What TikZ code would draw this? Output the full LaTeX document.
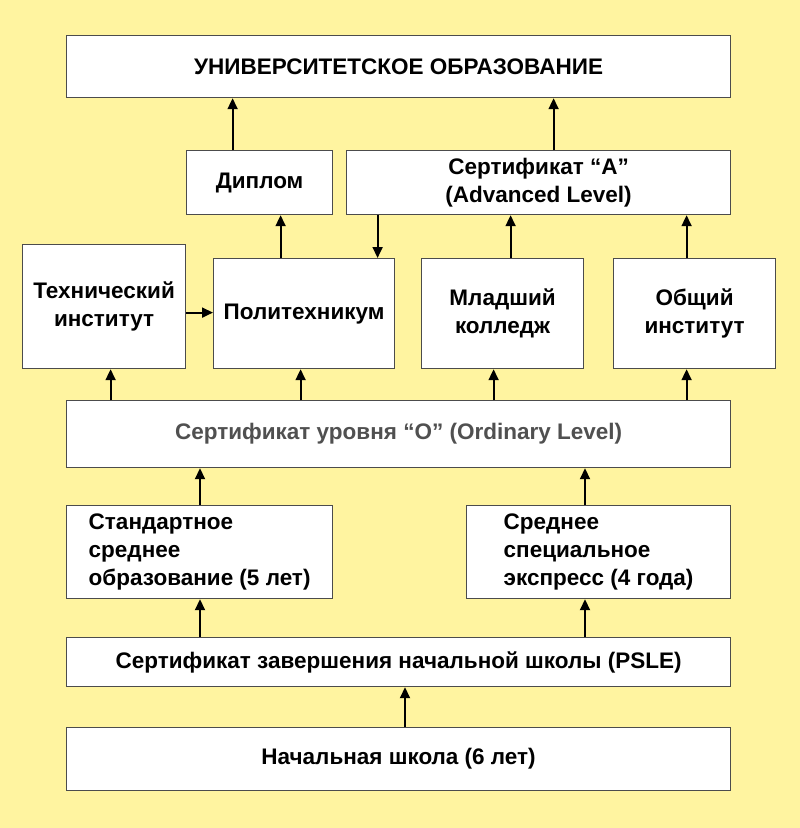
\documentclass[tikz,border=0pt]{standalone}
\usepackage{fontspec}
\setmainfont{Liberation Sans}
\usetikzlibrary{arrows.meta}
\definecolor{bgyellow}{RGB}{255,244,160}
\definecolor{certgray}{RGB}{80,80,80}
\begin{document}
\begin{tikzpicture}[x=1pt,y=-1pt,>={Triangle[length=11pt,width=10pt]},line width=1.8pt,
  box/.style={draw=black!70,line width=1.2pt,fill=white,anchor=north west,inner sep=0pt,align=center,
    font=\fontsize{22.5}{28}\selectfont\bfseries}]
  \fill[bgyellow] (0,0) rectangle (800,828);
  \useasboundingbox (0,0) rectangle (800,828);

  % top level
  \node[box,minimum width=664,minimum height=62] (univ) at (66,35) {УНИВЕРСИТЕТСКОЕ ОБРАЗОВАНИЕ};
  \node[box,minimum width=146,minimum height=64] (dipl) at (186,150) {Диплом};
  \node[box,minimum width=384,minimum height=64] (certa) at (346,150) {Сертификат “А”\\(Advanced Level)};

  % middle row
  \node[box,minimum width=163,minimum height=124] (tech) at (22,244) {Технический\\институт};
  \node[box,minimum width=181,minimum height=110] (poly) at (213,258) {Политехникум};
  \node[box,minimum width=162,minimum height=110] (junior) at (421,258) {Младший\\колледж};
  \node[box,minimum width=162,minimum height=110] (general) at (613,258) {Общий\\институт};

  \node[box,minimum width=664,minimum height=67,text=certgray] (certo) at (66,400) {Сертификат уровня “О” (Ordinary Level)};

  % secondary
  \node[box,minimum width=266,minimum height=93] (standard) at (66,505) {\begin{tabular}{@{}l@{}}Стандартное\\среднее\\образование (5 лет)\end{tabular}};
  \node[box,minimum width=264,minimum height=93] (special) at (466,505) {\begin{tabular}{@{}l@{}}Среднее\\специальное\\экспресс (4 года)\end{tabular}};

  \node[box,minimum width=664,minimum height=49] (psle) at (66,637) {Сертификат завершения начальной школы (PSLE)};
  \node[box,minimum width=664,minimum height=63] (primary) at (66,727) {Начальная школа (6 лет)};

  % arrows
  \draw[->] ([xshift=-27pt]dipl.north) -- ([xshift=-27pt]dipl.north |- univ.south);
  \draw[->] ([xshift=15pt]certa.north) -- ([xshift=15pt]certa.north |- univ.south);
  \draw[->] ([xshift=-23.5pt]poly.north) -- ([xshift=-23.5pt]poly.north |- dipl.south);
  \draw[->] ([xshift=-161pt]certa.south) -- ([xshift=-161pt]certa.south |- poly.north);
  \draw[->] ([xshift=8pt]junior.north) -- ([xshift=8pt]junior.north |- certa.south);
  \draw[->] ([xshift=-8pt]general.north) -- ([xshift=-8pt]general.north |- certa.south);
  \draw[->] ([yshift=-6pt]tech.east) -- ([yshift=-6pt]tech.east -| poly.west);
  \draw[->] ([xshift=-288pt]certo.north) -- ([xshift=-288pt]certo.north |- tech.south);
  \draw[->] ([xshift=-98pt]certo.north) -- ([xshift=-98pt]certo.north |- poly.south);
  \draw[->] ([xshift=95pt]certo.north) -- ([xshift=95pt]certo.north |- junior.south);
  \draw[->] ([xshift=288pt]certo.north) -- ([xshift=288pt]certo.north |- general.south);
  \draw[->] (standard.north -| 200,0) -- (certo.south -| 200,0);
  \draw[->] (special.north -| 585,0) -- (certo.south -| 585,0);
  \draw[->] (psle.north -| 200,0) -- (standard.south -| 200,0);
  \draw[->] (psle.north -| 585,0) -- (special.south -| 585,0);
  \draw[->] (primary.north -| 405,0) -- (psle.south -| 405,0);
\end{tikzpicture}
\end{document}
